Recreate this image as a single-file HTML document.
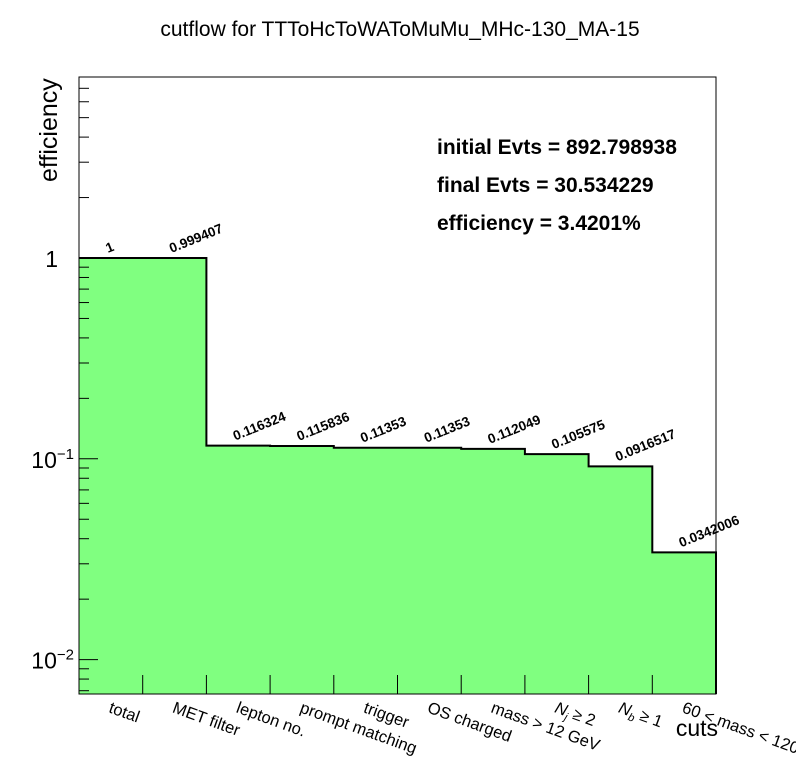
<!DOCTYPE html>
<html><head><meta charset="utf-8"><style>
body{margin:0;background:#fff;overflow:hidden;}
svg{display:block;font-family:"Liberation Sans",Arial,sans-serif;}
</style></head><body>
<svg id="c" width="796" height="772">
<text x="400" y="36" text-anchor="middle" font-size="21">cutflow for TTToHcToWAToMuMu_MHc-130_MA-15</text>
<g id="plot"></g>
<text x="437" y="154" font-size="21" font-weight="bold">initial Evts = 892.798938</text>
<text x="437" y="192" font-size="21" font-weight="bold">final Evts = 30.534229</text>
<text x="437" y="230" font-size="21" font-weight="bold">efficiency = 3.4201%</text>
<text transform="translate(57,182) rotate(-90)" font-size="25">efficiency</text>
<text x="718" y="736" text-anchor="end" font-size="23">cuts</text>
</svg>
<script>
const categories=["total","MET filter","lepton no.","prompt matching","trigger","OS charged","mass > 12 GeV","N_j ≥ 2","N_b ≥ 1","60 < mass < 120"];
const values=[1,0.999407,0.116324,0.115836,0.11353,0.11353,0.112049,0.105575,0.0916517,0.0342006];
const valueLabels=["1","0.999407","0.116324","0.115836","0.11353","0.11353","0.112049","0.105575","0.0916517","0.0342006"];
const yMajor=[1,0.1,0.01];
const yMajorLabels=[["1",""],["10","−1"],["10","−2"]];
const NS="http://www.w3.org/2000/svg";
const X0=79,X1=716,Y0=77,Y1=694;
const bw=(X1-X0)/categories.length;
function xs(i){return X0+i*bw;}
function ys(v){return 258-200.8*Math.log10(v);}
const g=document.getElementById('plot');
function mk(t,a){const e=document.createElementNS(NS,t);for(const k in a)e.setAttribute(k,a[k]);g.appendChild(e);return e;}
let d="M"+X0+","+Y1;
values.forEach((v,i)=>{d+=" L"+xs(i)+","+ys(v)+" L"+xs(i+1)+","+ys(v);});
d+=" L"+X1+","+Y1+" Z";
let e=mk('path',{d:d,fill:'#80ff80',stroke:'none'});


let d2="M"+X0+","+ys(values[0]);
values.forEach((v,i)=>{d2+=" L"+xs(i)+","+ys(v)+" L"+xs(i+1)+","+ys(v);});
d2+=" L"+X1+","+Y1;
e=mk('path',{d:d2,fill:'none',stroke:'#000','stroke-width':2});


e=mk('rect',{x:X0,y:Y0,width:X1-X0,height:Y1-Y0,fill:'none',stroke:'#000','stroke-width':1});


for(let p=-3;p<=1;p++){for(let m=1;m<=9;m++){const v=m*Math.pow(10,p);const y=ys(v);if(y<Y0||y>Y1)continue;
const L=m==1?19:10;e=mk('line',{x1:X0,x2:X0+L,y1:y,y2:y,stroke:'#000','stroke-width':1});

}}
yMajor.forEach((v,i)=>{const t=mk('text',{x:58,y:ys(v)+9,'text-anchor':'end','font-size':23});


t.textContent=yMajorLabels[i][0];
if(yMajorLabels[i][1]){const s=document.createElementNS(NS,'tspan');s.setAttribute('font-size','15');s.setAttribute('dy','-9');s.textContent=yMajorLabels[i][1];t.appendChild(s);t.setAttribute('x',74);}});
categories.forEach((c,i)=>{
if(i>0){e=mk('line',{x1:xs(i),x2:xs(i),y1:Y1,y2:Y1-19,stroke:'#000','stroke-width':1});

}
const cx=xs(i)+bw/2;
const t=mk('text',{transform:"translate("+(cx-3)+",712) rotate(20)",'font-size':16.5});


const m=c.match(/^N_(\w)(.*)$/);
if(m){const a=document.createElementNS(NS,'tspan');a.setAttribute('font-style','italic');a.textContent='N';t.appendChild(a);
const b=document.createElementNS(NS,'tspan');b.setAttribute('font-size','11');b.setAttribute('font-style','italic');b.setAttribute('dy','4');b.textContent=m[1];t.appendChild(b);
const r=document.createElementNS(NS,'tspan');r.setAttribute('dy','-4');r.textContent=m[2];t.appendChild(r);}
else t.textContent=c;
const v=mk('text',{transform:"translate("+(cx-3)+","+(ys(values[i])-5)+") rotate(-22)",'font-size':13.5,'font-weight':'bold'});


v.textContent=valueLabels[i];
});
</script>
</body></html>
